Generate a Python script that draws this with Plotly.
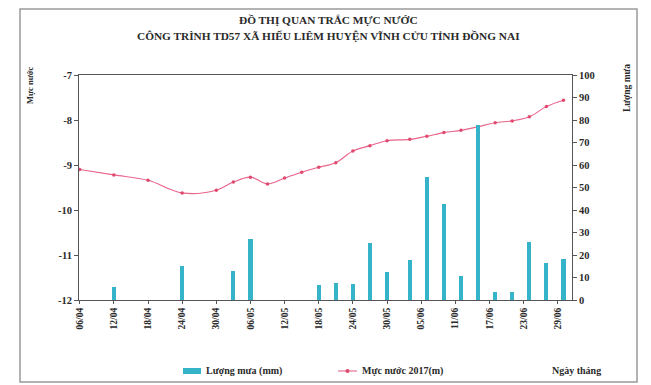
import plotly.graph_objects as go

dates = ["2017-04-06", "2017-04-12", "2017-04-18", "2017-04-24", "2017-04-30",
         "2017-05-03", "2017-05-06", "2017-05-09", "2017-05-12", "2017-05-15",
         "2017-05-18", "2017-05-21", "2017-05-24", "2017-05-27", "2017-05-30",
         "2017-06-03", "2017-06-06", "2017-06-09", "2017-06-12", "2017-06-15",
         "2017-06-18", "2017-06-21", "2017-06-24", "2017-06-27", "2017-06-30"]

water_level = [-9.10, -9.22, -9.34, -9.62, -9.56,
               -9.38, -9.27, -9.42, -9.29, -9.16,
               -9.05, -8.95, -8.69, -8.57, -8.46,
               -8.43, -8.36, -8.28, -8.23, -8.15,
               -8.06, -8.02, -7.93, -7.70, -7.56]

rainfall = [0, 6, 0, 15, 0,
            13, 27, 0, 0, 0,
            6.5, 7.7, 7, 25.5, 12.4,
            18, 54.5, 42.7, 10.5, 78,
            3.5, 3.5, 26, 16.3, 18.2]

tick_dates = ["2017-04-06", "2017-04-12", "2017-04-18", "2017-04-24", "2017-04-30",
              "2017-05-06", "2017-05-12", "2017-05-18", "2017-05-24", "2017-05-30",
              "2017-06-05", "2017-06-11", "2017-06-17", "2017-06-23", "2017-06-29"]
tick_labels = ["06/04", "12/04", "18/04", "24/04", "30/04", "06/05", "12/05", "18/05",
               "24/05", "30/05", "05/06", "11/06", "17/06", "23/06", "29/06"]

title_lines = ["ĐỒ THỊ QUAN TRẮC MỰC NƯỚC",
               "CÔNG TRÌNH TD57 XÃ HIẾU LIÊM HUYỆN VĨNH CỬU TỈNH ĐỒNG NAI"]
legend_names = ["Lượng mưa (mm)", "Mực nước 2017(m)"]

FONT = "Liberation Serif"
TXT = "#2a2a2a"
BAR_C = "#35b4c9"
LINE_C = "#e8648a"

fig = go.Figure()
fig.add_trace(go.Bar(
    x=dates, y=rainfall, yaxis="y2", name=legend_names[0],
    marker=dict(color=BAR_C, line=dict(width=0)),
    width=0.72 * 86400000, showlegend=False,
))
fig.add_trace(go.Scatter(
    x=dates, y=water_level, yaxis="y", name=legend_names[1],
    mode="lines+markers", line=dict(color=LINE_C, width=1.1, shape="spline"),
    marker=dict(color="#e04a6e", size=3.5), showlegend=False,
))

# page body has an 8px margin, so the figure starts at screen (8, 8)
# helpers convert screen pixels to paper coordinates (plot area 79..572 x 75..300)
px2x = lambda p: (p - 79) / 493.0
px2y = lambda p: (300 - p) / 225.0

fig.update_layout(
    width=643, height=377,
    margin=dict(l=71, r=79, t=67, b=85, autoexpand=False),
    paper_bgcolor="white", plot_bgcolor="white",
    font=dict(family=FONT, size=9, color=TXT),
    showlegend=False,
    xaxis=dict(type="date", range=["2017-04-05 21:00", "2017-07-01 12:00"],
               tickvals=tick_dates, ticktext=["<b>%s</b>" % t for t in tick_labels],
               tickangle=-90, ticks="outside", ticklen=3, tickcolor="#555",
               showline=True, linecolor="#555", linewidth=1, mirror=True,
               showgrid=False, zeroline=False, tickfont=dict(size=9.5), automargin=False),
    yaxis=dict(range=[-12, -7], ticks="outside", ticklen=4, tickcolor="#555",
               showline=True, linecolor="#555", linewidth=1, showgrid=False, zeroline=False,
               tickvals=[-12, -11, -10, -9, -8, -7],
               ticktext=["<b>%d</b>" % v for v in [-12, -11, -10, -9, -8, -7]],
               tickfont=dict(size=10.5), automargin=False),
    yaxis2=dict(range=[0, 100], overlaying="y", side="right", ticks="outside", ticklen=4,
                tickcolor="#555", showline=True, linecolor="#555", linewidth=1,
                showgrid=False, zeroline=False,
                tickvals=list(range(0, 101, 10)),
                ticktext=["<b>%d</b>" % v for v in range(0, 101, 10)],
                tickfont=dict(size=10.5), automargin=False),
    bargap=0,
)

# frame of the chart sheet
fig.add_shape(type="rect", xref="paper", yref="paper",
              x0=px2x(20), x1=px2x(637), y0=px2y(382), y1=px2y(9),
              fillcolor="white", line=dict(color="#9a9a9a", width=1.5), layer="below")

# title
fig.add_annotation(text="<b>%s</b>" % title_lines[0], xref="paper", yref="paper",
                   x=px2x(328), y=px2y(20), showarrow=False, xanchor="center", yanchor="middle",
                   font=dict(family=FONT, size=11.3, color=TXT))
fig.add_annotation(text="<b>%s</b>" % title_lines[1], xref="paper", yref="paper",
                   x=px2x(328), y=px2y(36), showarrow=False, xanchor="center", yanchor="middle",
                   font=dict(family=FONT, size=11.3, color=TXT))

# axis titles
fig.add_annotation(text="<b>Mực nước</b>", xref="paper", yref="paper", textangle=-90,
                   x=px2x(30), y=px2y(64), showarrow=False, xanchor="center", yanchor="top",
                   font=dict(family=FONT, size=8.5, color=TXT))
fig.add_annotation(text="<b>Lượng mưa</b>", xref="paper", yref="paper", textangle=-90,
                   x=px2x(627), y=px2y(62), showarrow=False, xanchor="center", yanchor="top",
                   font=dict(family=FONT, size=9.5, color=TXT))
fig.add_annotation(text="<b>Ngày tháng</b>", xref="paper", yref="paper",
                   x=px2x(603), y=px2y(370), showarrow=False, xanchor="right", yanchor="middle",
                   font=dict(family=FONT, size=10, color=TXT))

# legend (drawn manually to match the flat swatch)
fig.add_shape(type="rect", xref="paper", yref="paper",
              x0=px2x(183), x1=px2x(201), y0=px2y(374), y1=px2y(368),
              fillcolor=BAR_C, line=dict(width=0))
fig.add_annotation(text="<b>%s</b>" % legend_names[0], xref="paper", yref="paper",
                   x=px2x(204), y=px2y(371), showarrow=False, xanchor="left", yanchor="middle",
                   font=dict(family=FONT, size=10, color=TXT))
fig.add_shape(type="line", xref="paper", yref="paper",
              x0=px2x(338), x1=px2x(357), y0=px2y(371), y1=px2y(371),
              line=dict(color=LINE_C, width=1.1))
fig.add_shape(type="circle", xref="paper", yref="paper",
              x0=px2x(345.5), x1=px2x(349.5), y0=px2y(373), y1=px2y(369),
              fillcolor="#e04a6e", line=dict(width=0))
fig.add_annotation(text="<b>%s</b>" % legend_names[1], xref="paper", yref="paper",
                   x=px2x(360), y=px2y(371), showarrow=False, xanchor="left", yanchor="middle",
                   font=dict(family=FONT, size=10, color=TXT))

fig.write_html("out.html")
